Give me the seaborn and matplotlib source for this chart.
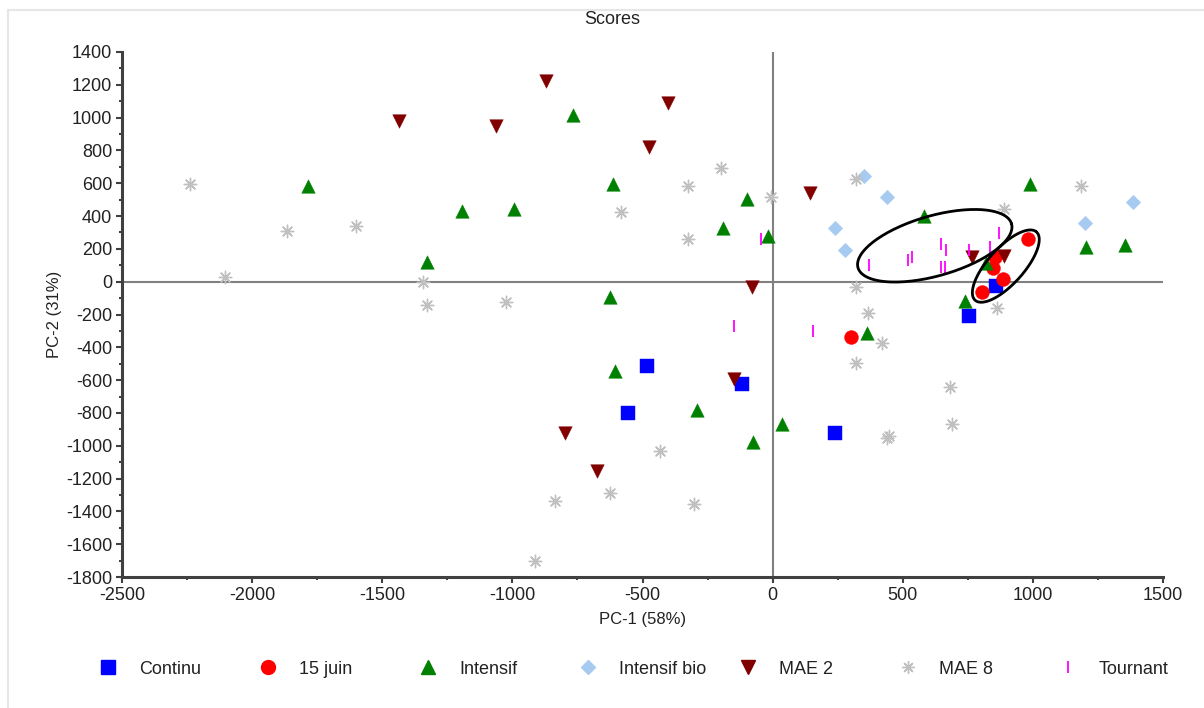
import numpy as np
import pandas as pd
import seaborn as sns
import matplotlib.pyplot as plt
from matplotlib.lines import Line2D

# score values (PC-1, PC-2)
continu_x = [-482, -557, -118, 241, 753, 858]
continu_y = [-514, -798, -622, -925, -207, -26]

juin_x = [301, 981, 854, 845, 884, 803]
juin_y = [-339, 259, 149, 84, 16, -65]

intensif_x = [-1786, -1193, -995, -1329, -767, -612, -100, -192, -19, -625, -605,
              -290, -74, 36, 364, 581, 820, 740, 989, 1204, 1353]
intensif_y = [583, 433, 443, 122, 1015, 594, 504, 326, 279, -95, -543,
              -782, -976, -868, -315, 402, 115, -116, 596, 210, 226]

bio_x = [352, 438, 241, 278, 1199, 1383]
bio_y = [644, 518, 329, 193, 360, 484]

mae2_x = [-1434, -1064, -870, -402, -476, 142, -80, -148, -796, -675, 766, 889]
mae2_y = [980, 949, 1226, 1088, 823, 539, -34, -595, -925, -1152, 152, 157]

mae8_x = [-2238, -1867, -1600, -2106, -1342, -1329, -1025, -198, -326, -582, -326,
          -6, 320, 320, 368, 889, 1184, 863, 419, 320, 438, 446, 682, 689,
          -433, -625, -835, -303, -914]
mae8_y = [594, 309, 340, 27, -4, -142, -122, 691, 585, 427, 260,
          518, 624, -34, -189, 443, 584, -162, -376, -498, -951, -940, -644, -868,
          -1032, -1287, -1337, -1356, -1703]

tournant_x = [-147, 154, -45, 370, 519, 537, 648, 667, 648, 661, 753, 835, 870]
tournant_y = [-270, -299, 260, 104, 132, 152, 230, 193, 92, 92, 193, 213, 295]

groups = ['Continu', '15 juin', 'Intensif', 'Intensif bio', 'MAE 2', 'MAE 8', 'Tournant']
xs = [continu_x, juin_x, intensif_x, bio_x, mae2_x, mae8_x, tournant_x]
ys = [continu_y, juin_y, intensif_y, bio_y, mae2_y, mae8_y, tournant_y]

# ellipses drawn on the chart: centre and two half-axis vectors, data units
ell_centres = [(623, 219), (896, 95)]
ell_u = [(295, 134), (118, 208)]
ell_v = [(-32, 176), (-51, 73)]

colors = ['#0000FF', '#FF0000', '#008000', '#A6CAF0', '#800000', '#C0C0C0', '#FF00FF']
markers = ['s', 'o', '^', 'D', 'v', (8, 2, 0), '|']
sizes = [90, 100, 95, 55, 95, 80, 80]
line_w = {'|': 1.3, (8, 2, 0): 1.0}

sns.set_style('white')
plt.rcParams['font.family'] = ['Liberation Sans', 'DejaVu Sans']
plt.rcParams['axes.unicode_minus'] = False

fig = plt.figure(figsize=(12.04, 7.08), dpi=100)
ax = fig.add_axes([122 / 1204, 1 - 577 / 708, 1041 / 1204, 525 / 708])

ax.axhline(0, color='#808080', lw=1.5, zorder=1)
ax.axvline(0, color='#808080', lw=1.5, zorder=1)

handles = []
for g, x, y, c, m, s in zip(groups, xs, ys, colors, markers, sizes):
    df = pd.DataFrame({'x': x, 'y': y})
    if m in line_w:
        sns.scatterplot(data=df, x='x', y='y', ax=ax, marker=m, s=s, color=c,
                        linewidth=line_w[m], zorder=3)
        h = Line2D([], [], ls='none', marker=m, color=c, markersize=np.sqrt(s),
                   markeredgewidth=line_w[m])
    else:
        sns.scatterplot(data=df, x='x', y='y', ax=ax, marker=m, s=s, color=c,
                        edgecolor=c, linewidth=0.3, zorder=3)
        h = Line2D([], [], ls='none', marker=m, color=c, markersize=np.sqrt(s),
                   markeredgecolor=c)
    handles.append(h)

t = np.linspace(0, 2 * np.pi, 200)
for (cx, cy), u, v in zip(ell_centres, ell_u, ell_v):
    ex = cx + u[0] * np.cos(t) + v[0] * np.sin(t)
    ey = cy + u[1] * np.cos(t) + v[1] * np.sin(t)
    ax.plot(ex, ey, color='black', lw=2, zorder=4)

ax.set_xlim(-2500, 1500)
ax.set_ylim(-1800, 1400)
ax.set_xticks(np.arange(-2500, 1501, 500))
ax.set_yticks(np.arange(-1800, 1401, 200))
ax.set_xticks(np.arange(-2250, 1500, 500), minor=True)
ax.set_yticks(np.arange(-1700, 1400, 200), minor=True)
ax.tick_params(which='major', direction='out', length=4, width=1.5, color='#404040',
               labelsize=13, labelcolor='#222222', left=True, bottom=True, pad=3)
ax.tick_params(which='minor', direction='out', length=2.5, width=1.5, color='#404040',
               left=True, bottom=True)

for side in ['top', 'right']:
    ax.spines[side].set_visible(False)
for side in ['left', 'bottom']:
    ax.spines[side].set_color('#404040')
    ax.spines[side].set_linewidth(2.2)

ax.set_xlabel('PC-1 (58%)', fontsize=12, color='#222222', labelpad=6)
ax.set_ylabel('PC-2 (31%)', fontsize=12, color='#222222', labelpad=3)
fig.text(612 / 1204, 1 - 20 / 708, 'Scores', ha='center', va='center', fontsize=13,
         color='#222222')

# legend entries spaced evenly along the bottom
for i, (g, h) in enumerate(zip(groups, handles)):
    x0 = (92 + 160 * i) / 1204
    fig.legend(handles=[h], labels=[g], loc='center left', bbox_to_anchor=(x0, 1 - 669 / 708),
               frameon=False, fontsize=13, handlelength=1.0, handletextpad=1.2,
               borderaxespad=0, labelcolor='#222222')

# light frame round the figure
fig.add_artist(Line2D([8 / 1204, 1.0], [1 - 10 / 708] * 2, color='#E6E6E6', lw=1.5))
fig.add_artist(Line2D([8 / 1204] * 2, [0, 1 - 10 / 708], color='#E6E6E6', lw=1.5))

fig.savefig('out.png', dpi=100)
